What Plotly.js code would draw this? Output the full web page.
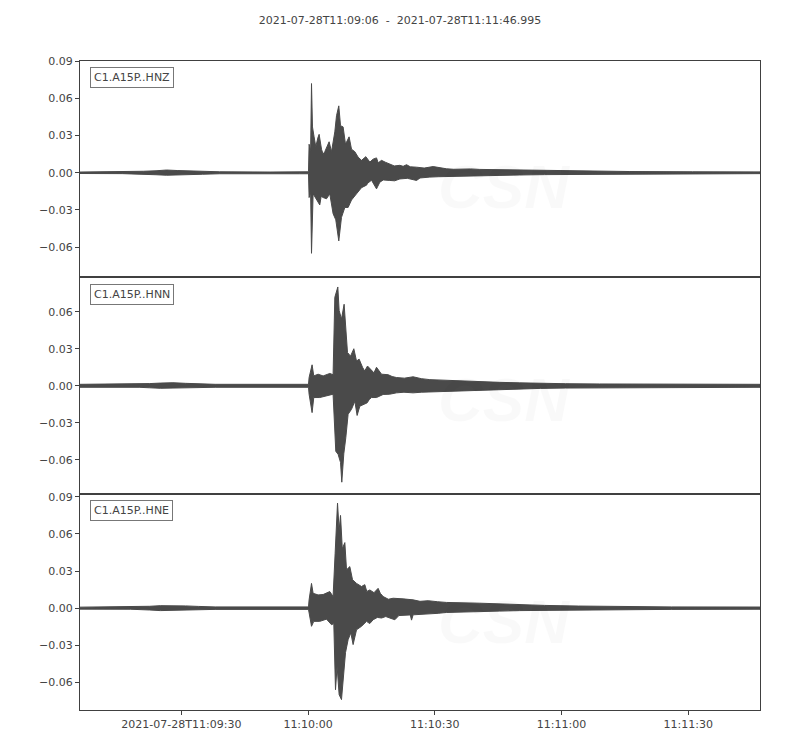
<!DOCTYPE html>
<html>
<head>
<meta charset="utf-8">
<script src="https://cdn.plot.ly/plotly-3.0.1.min.js"></script>
<style>
  body { margin: 0; background: #fff; }
  #plot { width: 800px; height: 750px; }
</style>
</head>
<body>
<div id="plot"></div>
<script>
// seconds after 2021-07-28T11:09:06, envelope
let title_text = "2021-07-28T11:09:06\u00a0\u00a0-\u00a0\u00a02021-07-28T11:11:46.995";
let trace_names = ["C1.A15P..HNZ", "C1.A15P..HNN", "C1.A15P..HNE"];
let tick_vals = [24, 54, 84, 114, 144];
let tick_text = ["2021-07-28T11:09:30", "11:10:00", "11:10:30", "11:11:00", "11:11:30"];
let t_end = 160.995;

let hnz_up_t = [0, 10, 15, 18, 20.5, 23, 26, 29, 33, 45, 52, 54.1, 54.24, 54.6, 54.81, 55.04, 55.42, 55.83, 56.3, 56.61, 57.18, 57.56, 57.96, 58.98, 59.55, 60.33, 60.73, 61.27, 61.68, 62.29, 62.86, 63.71, 64.28, 65.07, 65.85, 66.65, 67.67, 68.62, 69.4, 70.2, 70.6, 71.39, 72.3, 73.35, 74.4, 75.72, 76.5, 77.31, 78.2, 79.68, 81.5, 83.61, 85, 86.78, 88.5, 90.72, 92.5, 94.67, 99.4, 104, 110, 118, 130, 145, 161];
let hnz_up = [0.0006, 0.0007, 0.0012, 0.0016, 0.0022, 0.0018, 0.0016, 0.0012, 0.0008, 0.0006, 0.0008, 0.0008, 0.023, 0.018, 0.072, 0.037, 0.029, 0.021, 0.028, 0.031, 0.019, 0.015, 0.017, 0.025, 0.017, 0.033, 0.046, 0.054, 0.038, 0.037, 0.023, 0.029, 0.019, 0.017, 0.0126, 0.010, 0.013, 0.0086, 0.011, 0.012, 0.008, 0.010, 0.0085, 0.007, 0.0055, 0.006, 0.0052, 0.0065, 0.0048, 0.0045, 0.0038, 0.005, 0.0042, 0.0032, 0.0028, 0.003, 0.0031, 0.0027, 0.0025, 0.002, 0.0016, 0.0013, 0.001, 0.0008, 0.0007];
let hnz_lo_t = [0, 10, 15, 18, 20.5, 23, 26, 29, 33, 45, 52, 54.1, 54.24, 54.6, 54.81, 55.19, 55.99, 56.77, 57.1, 57.56, 58.36, 59.14, 59.92, 60.56, 61.27, 61.91, 62.7, 63.48, 64.28, 65.47, 66.65, 67.84, 68.1, 69.02, 70.2, 70.99, 71.8, 73.35, 74.5, 75.72, 77.5, 79.68, 80.5, 82.83, 84.8, 86.78, 90, 94.67, 99.4, 104, 110, 118, 130, 145, 161];
let hnz_lo = [-0.0006, -0.0007, -0.0012, -0.0016, -0.002, -0.0018, -0.0015, -0.0012, -0.0008, -0.0006, -0.0008, -0.0008, -0.020, -0.016, -0.065, -0.017, -0.022, -0.026, -0.019, -0.020, -0.021, -0.017, -0.033, -0.038, -0.055, -0.036, -0.028, -0.028, -0.022, -0.017, -0.012, -0.010, -0.0085, -0.006, -0.013, -0.0076, -0.0058, -0.0062, -0.0065, -0.005, -0.0045, -0.0062, -0.0042, -0.0035, -0.0032, -0.0027, -0.0026, -0.0022, -0.002, -0.0018, -0.0015, -0.0012, -0.001, -0.0008, -0.0007];

let hnn_up_t = [0, 14, 16.5, 19, 22, 25, 28, 32, 54.1, 54.24, 54.95, 55.35, 56.37, 57.56, 59.14, 59.92, 60.33, 60.73, 61.04, 61.35, 61.91, 62.53, 62.93, 63.33, 64.05, 64.83, 65.47, 66.08, 66.89, 67.4, 68.07, 69.02, 69.6, 70.2, 71, 71.39, 72.95, 73.9, 74.94, 76.8, 78.87, 80.8, 82.83, 84.7, 86.78, 90.72, 94.67, 99.4, 104, 109, 115, 123, 135, 161];
let hnn_up = [0.0012, 0.0012, 0.0018, 0.0022, 0.0025, 0.002, 0.0015, 0.0012, 0.0012, 0.0067, 0.017, 0.008, 0.0094, 0.008, 0.010, 0.009, 0.0716, 0.077, 0.080, 0.061, 0.054, 0.066, 0.045, 0.027, 0.024, 0.030, 0.020, 0.0216, 0.015, 0.012, 0.016, 0.012, 0.0105, 0.015, 0.011, 0.0094, 0.009, 0.0075, 0.0067, 0.0062, 0.0073, 0.0058, 0.005, 0.0047, 0.0043, 0.0037, 0.0032, 0.0028, 0.0024, 0.002, 0.0017, 0.0015, 0.0013, 0.0012];
let hnn_lo_t = [0, 14, 16.5, 19, 22, 25, 28, 32, 54.1, 54.24, 54.95, 55.35, 56.77, 58.36, 59.92, 60.56, 61.11, 61.68, 61.98, 62.46, 62.93, 63.48, 64.28, 65.07, 65.61, 66.25, 67.03, 67.98, 68.5, 69.02, 70.2, 70.8, 71.77, 73.3, 74.94, 76.7, 78.87, 80.8, 82.83, 84.8, 86.78, 94.67, 99.4, 104, 109, 115, 123, 135, 161];
let hnn_lo = [-0.0012, -0.0012, -0.0016, -0.002, -0.0022, -0.0018, -0.0015, -0.0012, -0.0012, -0.0068, -0.0217, -0.0095, -0.0095, -0.008, -0.0068, -0.053, -0.0555, -0.062, -0.078, -0.055, -0.042, -0.023, -0.019, -0.0125, -0.024, -0.0165, -0.015, -0.0138, -0.011, -0.0095, -0.0095, -0.0085, -0.007, -0.0068, -0.0057, -0.0052, -0.0057, -0.0052, -0.0049, -0.0043, -0.0044, -0.0038, -0.0032, -0.0026, -0.0021, -0.0018, -0.0015, -0.0013, -0.0012];

let hne_up_t = [0, 12, 16.5, 19, 22, 25, 28, 32, 54.1, 54.24, 54.81, 55.19, 56.37, 57.56, 59.14, 59.92, 60.4, 60.73, 60.97, 61.35, 61.68, 62.1, 62.7, 63.1, 63.88, 64.52, 65.47, 66.65, 67.43, 67.9, 68.62, 69.6, 70.58, 71.1, 71.77, 73, 74.14, 76.5, 78.87, 80.5, 82.43, 84.6, 86.78, 94.67, 99.4, 104, 110, 118, 128, 140, 161];
let hne_up = [0.0008, 0.0009, 0.0015, 0.002, 0.0022, 0.0018, 0.0014, 0.001, 0.001, 0.0067, 0.020, 0.012, 0.0107, 0.011, 0.0134, 0.0094, 0.044, 0.066, 0.085, 0.063, 0.075, 0.048, 0.053, 0.031, 0.0336, 0.023, 0.020, 0.0175, 0.019, 0.0135, 0.0147, 0.0125, 0.016, 0.012, 0.0094, 0.0072, 0.008, 0.0075, 0.0067, 0.0055, 0.006, 0.0052, 0.0046, 0.004, 0.0033, 0.0028, 0.0022, 0.0017, 0.0013, 0.001, 0.0009];
let hne_lo_t = [0, 12, 16.5, 19, 22, 25, 28, 32, 54.1, 54.24, 54.81, 55.35, 56.77, 58.36, 59.55, 60.09, 60.49, 60.87, 61.35, 61.91, 62.29, 62.86, 63.48, 64.12, 64.66, 65.47, 66.65, 67.84, 68.6, 69.4, 70.4, 71.39, 72.4, 73.35, 74.54, 75.5, 78.2, 78.49, 78.87, 80.8, 82.83, 84.8, 86.78, 94.67, 99.4, 104, 110, 118, 128, 140, 161];
let hne_lo = [-0.0008, -0.0009, -0.0015, -0.002, -0.0022, -0.0018, -0.0014, -0.001, -0.001, -0.0027, -0.0147, -0.0107, -0.0107, -0.0089, -0.0134, -0.0125, -0.066, -0.047, -0.070, -0.074, -0.058, -0.036, -0.0255, -0.020, -0.0295, -0.0175, -0.0147, -0.0107, -0.0125, -0.0094, -0.0075, -0.008, -0.0068, -0.008, -0.0094, -0.006, -0.0055, -0.0097, -0.0054, -0.005, -0.0046, -0.0042, -0.0035, -0.0027, -0.0024, -0.002, -0.0018, -0.0015, -0.0012, -0.001, -0.0009];

let y_ranges = [[-0.0844, 0.0902], [-0.0873, 0.0878], [-0.0824, 0.0926]];

let wave_color = "#4a4a4a";
let frame_color = "#404040";
let text_color = "#444444";

function envelope(up_t, up, lo_t, lo, n) {
  let xs = up_t.concat(lo_t.slice().reverse());
  let ys = up.concat(lo.slice().reverse());
  return {
    x: xs, y: ys,
    xaxis: n == 1 ? "x" : "x" + n,
    yaxis: n == 1 ? "y" : "y" + n,
    type: "scatter", mode: "lines",
    fill: "toself", fillcolor: wave_color,
    line: {color: wave_color, width: 1},
    hoverinfo: "skip", showlegend: false
  };
}

let data = [
  envelope(hnz_up_t, hnz_up, hnz_lo_t, hnz_lo, 1),
  envelope(hnn_up_t, hnn_up, hnn_lo_t, hnn_lo, 2),
  envelope(hne_up_t, hne_up, hne_lo_t, hne_lo, 3)
];

let font = {family: "DejaVu Sans, sans-serif", size: 11, color: text_color};
let layout = {
  width: 800, height: 750,
  margin: {l: 80, r: 40, t: 61, b: 40},
  paper_bgcolor: "#fff", plot_bgcolor: "#fff",
  font: font,
  showlegend: false,
  title: {text: title_text, font: font, x: 0.5, xref: "container", y: 1 - 20 / 750, yanchor: "middle"},
  annotations: [],
};

let domains = [[2 / 3, 1], [1 / 3, 2 / 3], [0, 1 / 3]];
for (let i = 0; i < 3; i++) {
  let xs = i == 0 ? "" : String(i + 1);
  let is_bottom = i == 2;
  layout["xaxis" + xs] = {
    anchor: "y" + xs, range: [0, t_end], domain: [0, 1],
    matches: i == 0 ? undefined : "x",
    showgrid: false, zeroline: false,
    showline: true, mirror: true, linecolor: frame_color, linewidth: 1,
    tickmode: "array", tickvals: tick_vals, ticktext: tick_text,
    ticks: is_bottom ? "outside" : "", ticklen: 4, tickcolor: frame_color,
    showticklabels: is_bottom, tickfont: font
  };
  layout["yaxis" + xs] = {
    anchor: "x" + xs, domain: domains[i], range: y_ranges[i],
    showgrid: false, zeroline: false,
    showline: true, mirror: true, linecolor: frame_color, linewidth: 1,
    tick0: 0, dtick: 0.03, tickformat: ".2f",
    ticks: "outside", ticklen: 4, tickcolor: frame_color, tickfont: font
  };
  let xref = i == 0 ? "x" : "x" + xs;
  let yref = i == 0 ? "y" : "y" + xs;
  // station label
  layout.annotations.push({
    text: trace_names[i], xref: xref + " domain", yref: yref + " domain",
    x: 0.0147, y: 0.97, xanchor: "left", yanchor: "top", showarrow: false,
    font: font, bgcolor: "#fff", bordercolor: "#777", borderwidth: 1, borderpad: 3
  });
  // faint CSN watermark
  layout.annotations.push({
    text: "<b><i>CSN</i></b>", xref: xref, yref: yref, x: 100.5, y: -0.011,
    showarrow: false, font: {family: "Liberation Sans, sans-serif", size: 62, color: "rgba(0,0,0,0.025)"}
  });
  layout.annotations.push({
    text: "<i>CENTRO SISMOLÓGICO NACIONAL<br>UNIVERSIDAD DE CHILE</i>", xref: xref, yref: yref,
    x: 106, y: -0.047, xanchor: "left", align: "left", showarrow: false,
    font: {family: "Liberation Sans, sans-serif", size: 14, color: "rgba(0,0,0,0.025)"}
  });
}

Plotly.newPlot("plot", data, layout, {displayModeBar: false, staticPlot: true});
</script>
</body>
</html>
